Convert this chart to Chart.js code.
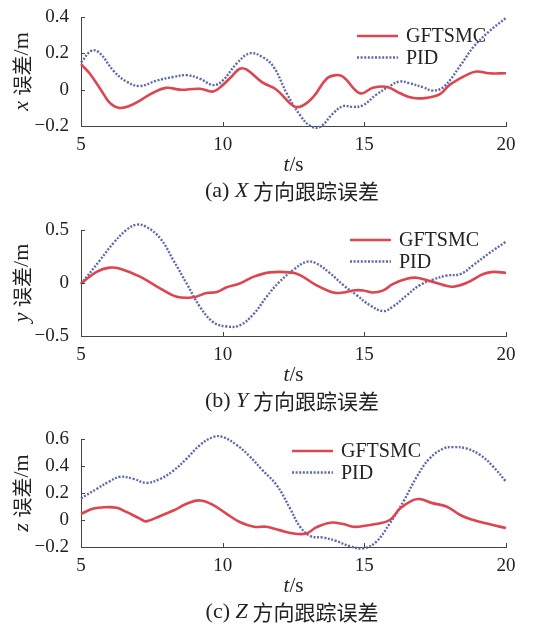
<!DOCTYPE html>
<html>
<head>
<meta charset="utf-8">
<script src="https://cdn.jsdelivr.net/npm/chart.js@4.4.1/dist/chart.umd.min.js"></script>
<style>
html, body { margin: 0; padding: 0; background: #fff; overflow: hidden; }
.panel { position: absolute; left: 0; width: 558px; height: 210px; }
</style>
</head>
<body>
<div class="panel" style="top:0"><canvas id="chartX" width="558" height="210"></canvas></div>
<div class="panel" style="top:210px"><canvas id="chartY" width="558" height="210"></canvas></div>
<div class="panel" style="top:420px"><canvas id="chartZ" width="558" height="210"></canvas></div>
<script>
// ---- data (t in s, error in m) ----
const seriesNames = ['GFTSMC', 'PID'];
const tTicks = [5, 10, 15, 20];

// (a) X direction
const tGftsmcX = [5, 5.3, 5.7, 6.0, 6.32, 6.7, 7.08, 7.5, 8.0, 8.5, 9.2, 9.67, 10.0, 10.3, 10.6, 10.85, 11.4, 11.9, 12.5, 12.8, 13.2, 13.67, 14.0, 14.26, 14.85, 15.3, 15.8, 16.26, 16.7, 17.2, 17.67, 18.0, 18.6, 18.96, 19.4, 20];
const gftsmcX = [0.14, 0.09, 0.0, -0.07, -0.10, -0.09, -0.06, -0.02, 0.01, 0.0, 0.005, -0.01, 0.025, 0.07, 0.115, 0.11, 0.04, 0.0, -0.09, -0.09, -0.04, 0.06, 0.08, 0.07, -0.02, 0.01, 0.015, -0.02, -0.045, -0.045, -0.025, 0.025, 0.08, 0.1, 0.09, 0.09];
const tPidX = [5, 5.38, 5.67, 6.14, 6.6, 7.08, 7.67, 8.26, 8.73, 9.2, 9.67, 10.0, 10.5, 10.96, 11.4, 11.8, 12.26, 12.73, 13.1, 13.44, 13.9, 14.26, 14.6, 14.96, 15.4, 15.9, 16.26, 16.6, 17.1, 17.4, 17.8, 18.4, 18.85, 19.4, 20];
const pidX = [0.15, 0.215, 0.2, 0.105, 0.045, 0.02, 0.05, 0.07, 0.08, 0.06, 0.025, 0.05, 0.145, 0.2, 0.18, 0.125, -0.02, -0.14, -0.2, -0.205, -0.13, -0.09, -0.095, -0.085, -0.03, 0.02, 0.045, 0.035, 0.012, -0.005, 0.015, 0.135, 0.235, 0.32, 0.395];
const yTicksX = [-0.2, 0, 0.2, 0.4];

// (b) Y direction
const tGftsmcY = [5, 5.55, 6.0, 6.38, 7.08, 7.79, 8.38, 8.96, 9.43, 9.79, 10.14, 10.6, 11.1, 11.67, 12.38, 12.73, 13.3, 13.9, 14.26, 14.6, 14.96, 15.3, 15.67, 16.0, 16.5, 16.85, 17.3, 17.8, 18.14, 18.6, 19.2, 19.55, 20];
const gftsmcY = [-0.005, 0.105, 0.145, 0.135, 0.06, -0.05, -0.13, -0.135, -0.095, -0.085, -0.04, -0.005, 0.06, 0.1, 0.1, 0.075, -0.02, -0.09, -0.09, -0.07, -0.07, -0.09, -0.07, -0.01, 0.04, 0.05, 0.02, -0.02, -0.035, 0.0, 0.085, 0.105, 0.095];
const tPidY = [5, 5.67, 6.14, 6.6, 6.96, 7.3, 7.8, 8.26, 8.73, 9.2, 9.67, 10.14, 10.6, 11.1, 11.55, 12.0, 12.5, 12.96, 13.3, 13.8, 14.26, 14.73, 15.2, 15.67, 16.0, 16.5, 16.96, 17.4, 17.9, 18.4, 18.85, 19.4, 20];
const pidY = [-0.01, 0.215, 0.375, 0.5, 0.55, 0.53, 0.42, 0.215, -0.005, -0.225, -0.37, -0.41, -0.4, -0.29, -0.13, 0.01, 0.125, 0.2, 0.185, 0.09, -0.02, -0.115, -0.21, -0.265, -0.225, -0.115, -0.02, 0.03, 0.07, 0.085, 0.17, 0.28, 0.39];
const yTicksY = [-0.5, 0, 0.5];

// (c) Z direction
const tGftsmcZ = [5, 5.44, 5.9, 6.26, 6.6, 7.08, 7.3, 7.8, 8.26, 8.73, 9.2, 9.67, 10.14, 10.6, 11.1, 11.55, 12.0, 12.5, 12.96, 13.3, 13.8, 14.26, 14.6, 14.96, 15.4, 15.9, 16.26, 16.7, 16.96, 17.4, 17.9, 18.4, 18.85, 19.4, 20];
const gftsmcZ = [0.045, 0.085, 0.095, 0.09, 0.06, 0.01, -0.01, 0.03, 0.07, 0.12, 0.145, 0.11, 0.045, -0.015, -0.05, -0.05, -0.075, -0.1, -0.1, -0.055, -0.02, -0.03, -0.05, -0.045, -0.03, 0.0, 0.085, 0.145, 0.155, 0.125, 0.1, 0.035, 0.0, -0.03, -0.06];
const tPidZ = [5, 5.55, 6.0, 6.38, 6.85, 7.3, 7.8, 8.26, 8.73, 9.2, 9.67, 10.0, 10.5, 10.96, 11.4, 11.9, 12.38, 12.73, 13.1, 13.55, 14.0, 14.5, 14.96, 15.4, 15.9, 16.4, 16.85, 17.3, 17.8, 18.14, 18.6, 19.1, 19.55, 20];
const pidZ = [0.16, 0.23, 0.285, 0.32, 0.305, 0.275, 0.305, 0.365, 0.455, 0.555, 0.615, 0.615, 0.555, 0.47, 0.37, 0.26, 0.085, -0.05, -0.12, -0.13, -0.155, -0.195, -0.21, -0.165, -0.025, 0.145, 0.32, 0.455, 0.53, 0.54, 0.53, 0.48, 0.395, 0.285];
const yTicksZ = [-0.2, 0, 0.2, 0.4, 0.6];

const SERIF = '"Liberation Serif", "Times New Roman", serif';
const CJK = '"Noto Sans CJK SC", sans-serif';
const textColor = '#222';
const axisColor = '#444';
const redColor = 'rgb(221, 70, 80)';
const blueColor = 'rgb(92, 106, 168)';

function zip(ts, vs) {
    return ts.map((t, i) => ({x: t, y: vs[i]}));
}

// draws a list of text pieces in different fonts, centred on cx
function drawRuns(ctx, runs, cx, cy) {
    let total = 0;
    runs.forEach(r => { ctx.font = r.f; r.w = ctx.measureText(r.t).width; total += r.w; });
    let x = cx - total / 2;
    ctx.textAlign = 'left';
    ctx.textBaseline = 'middle';
    runs.forEach(r => { ctx.font = r.f; ctx.fillText(r.t, x, cy); x += r.w; });
}

// inward ticks, legend, axis titles and caption
const panelText = {
    id: 'panelText',
    afterDraw(chart, args, opts) {
        const ctx = chart.ctx;
        const area = chart.chartArea;
        const xs = chart.scales.x, ys = chart.scales.y;
        ctx.save();

        ctx.strokeStyle = axisColor;
        ctx.lineWidth = 1;
        ctx.beginPath();
        xs.ticks.forEach(t => {
            const px = Math.round(xs.getPixelForValue(t.value)) + 0.5;
            ctx.moveTo(px, area.bottom);
            ctx.lineTo(px, area.bottom - 4);
        });
        ys.ticks.forEach(t => {
            const py = Math.round(ys.getPixelForValue(t.value)) + 0.5;
            ctx.moveTo(area.left, py);
            ctx.lineTo(area.left + 4, py);
        });
        ctx.stroke();

        // legend
        chart.data.datasets.forEach((ds, i) => {
            const y = opts.legendY + i * 21.5;
            ctx.strokeStyle = ds.borderColor;
            ctx.lineWidth = ds.borderWidth;
            ctx.setLineDash(ds.borderDash || []);
            ctx.beginPath();
            ctx.moveTo(opts.legendX, y);
            ctx.lineTo(opts.legendX + 41, y);
            ctx.stroke();
            ctx.setLineDash([]);
            ctx.fillStyle = textColor;
            ctx.font = '20px ' + SERIF;
            ctx.textAlign = 'left';
            ctx.textBaseline = 'middle';
            ctx.fillText(ds.label, opts.legendX + 49, y + 1);
        });

        ctx.fillStyle = textColor;
        // x title
        drawRuns(ctx, [
            {t: 't', f: 'italic 21px ' + SERIF},
            {t: '/s', f: '21px ' + SERIF}
        ], (area.left + area.right) / 2, area.bottom + 39);

        // caption
        drawRuns(ctx, [
            {t: '(' + opts.tag + ') ', f: '22px ' + SERIF},
            {t: opts.axis, f: 'italic 22px ' + SERIF},
            {t: ' 方向跟踪误差', f: '21px ' + CJK}
        ], 292, area.bottom + 65);

        // y title
        ctx.translate(22, (area.top + area.bottom) / 2);
        ctx.rotate(-Math.PI / 2);
        drawRuns(ctx, [
            {t: opts.axis.toLowerCase() + ' ', f: 'italic 22px ' + SERIF},
            {t: '误差', f: '20px ' + CJK},
            {t: '/m', f: '22px ' + SERIF}
        ], 0, 0);

        ctx.restore();
    }
};

function fmt(v) {
    const n = parseFloat(v.toFixed(2));
    if (n === 0) return '0';
    return n < 0 ? '\u2212' + Math.abs(n) : String(n);
}

function makePanel(id, p) {
    new Chart(document.getElementById(id), {
        type: 'line',
        data: {
            datasets: [{
                label: seriesNames[0],
                data: zip(p.tG, p.g),
                borderColor: redColor,
                borderWidth: 2.6,
                pointRadius: 0,
                tension: 0.4,
                clip: false
            }, {
                label: seriesNames[1],
                data: zip(p.tP, p.pid),
                borderColor: blueColor,
                borderWidth: 2.4,
                borderDash: [2, 1.6],
                pointRadius: 0,
                tension: 0.4,
                clip: false
            }]
        },
        options: {
            responsive: false,
            animation: false,
            devicePixelRatio: 1,
            layout: {padding: {top: p.top, right: 52, left: 0, bottom: 0}},
            plugins: {
                legend: {display: false},
                tooltip: {enabled: false},
                panelText: {legendX: p.legendX, legendY: p.legendY, tag: p.tag, axis: p.axis}
            },
            scales: {
                x: {
                    type: 'linear',
                    min: tTicks[0],
                    max: tTicks[tTicks.length - 1],
                    afterBuildTicks: s => { s.ticks = tTicks.map(v => ({value: v})); },
                    afterFit: s => { s.height = p.xh; },
                    grid: {display: false},
                    border: {color: axisColor, width: 1},
                    ticks: {color: textColor, font: {family: SERIF, size: 19}, padding: 0, maxRotation: 0}
                },
                y: {
                    min: p.yTicks[0],
                    max: p.yTicks[p.yTicks.length - 1],
                    afterBuildTicks: s => { s.ticks = p.yTicks.map(v => ({value: v})); },
                    afterFit: s => { s.width = 81; },
                    grid: {display: false},
                    border: {color: axisColor, width: 1},
                    ticks: {color: textColor, font: {family: SERIF, size: 19}, padding: 4, callback: fmt}
                }
            }
        },
        plugins: [panelText]
    });
}

makePanel('chartX', {tG: tGftsmcX, g: gftsmcX, tP: tPidX, pid: pidX, yTicks: yTicksX,
    top: 17, xh: 84, legendX: 357, legendY: 36, tag: 'a', axis: 'X'});
makePanel('chartY', {tG: tGftsmcY, g: gftsmcY, tP: tPidY, pid: pidY, yTicks: yTicksY,
    top: 20, xh: 84, legendX: 350, legendY: 30, tag: 'b', axis: 'Y'});
makePanel('chartZ', {tG: tGftsmcZ, g: gftsmcZ, tP: tPidZ, pid: pidZ, yTicks: yTicksZ,
    top: 19, xh: 83, legendX: 292, legendY: 31, tag: 'c', axis: 'Z'});
</script>
</body>
</html>
